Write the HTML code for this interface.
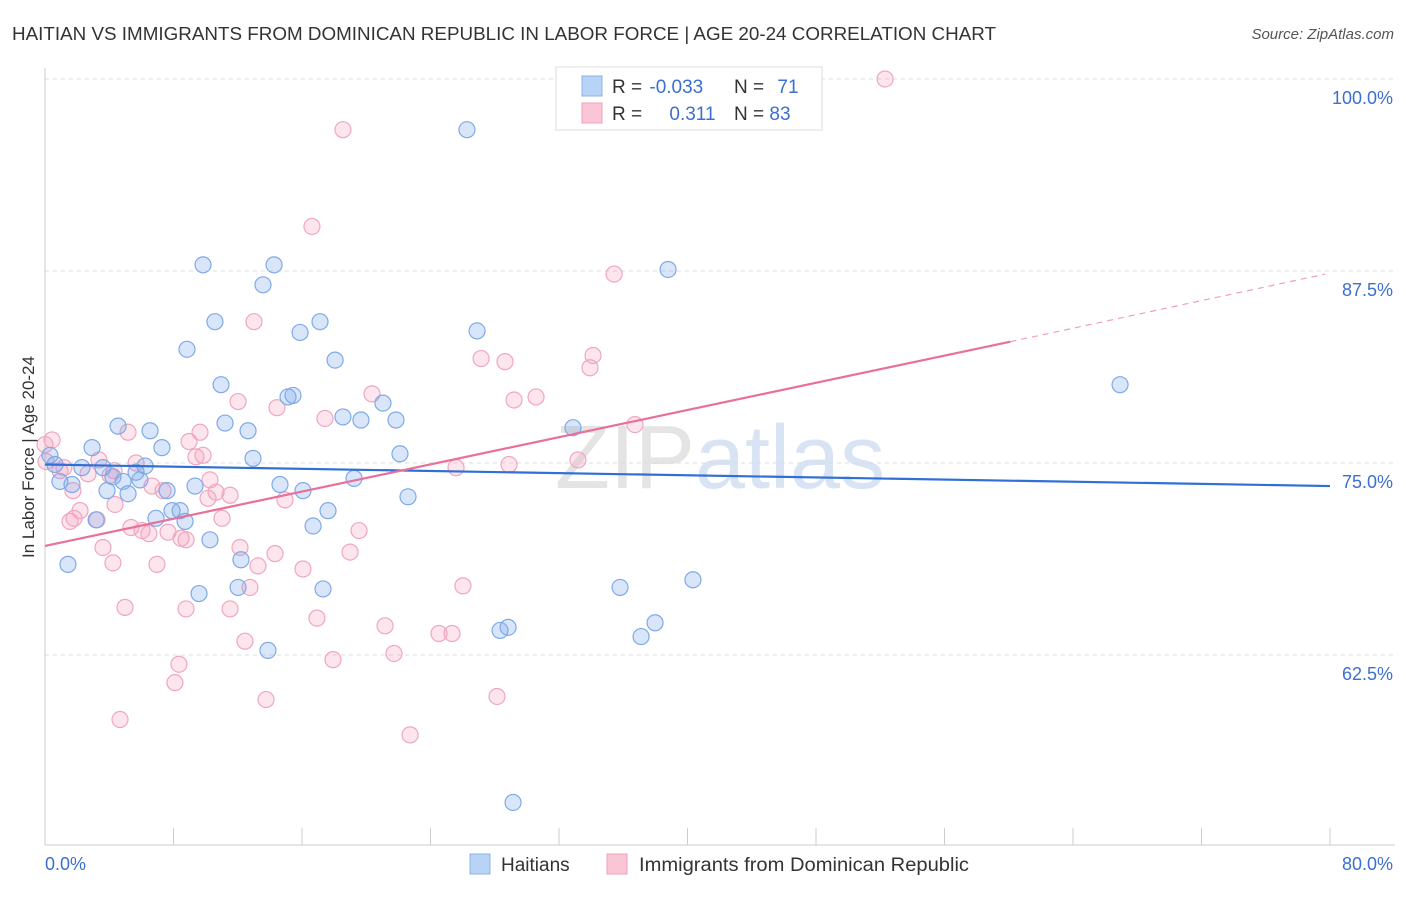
<!DOCTYPE html>
<html><head><meta charset="utf-8">
<style>
body{margin:0;background:#fff;font-family:"Liberation Sans",sans-serif;}
svg text{font-family:"Liberation Sans",sans-serif;}
</style></head>
<body>
<svg id="chart" width="1406" height="892" xmlns="http://www.w3.org/2000/svg">
<text x="12" y="40" font-size="18" fill="#333" textLength="984" lengthAdjust="spacingAndGlyphs">HAITIAN VS IMMIGRANTS FROM DOMINICAN REPUBLIC IN LABOR FORCE | AGE 20-24 CORRELATION CHART</text>
<text x="1394" y="39" font-size="15" fill="#555" font-style="italic" text-anchor="end">Source: ZipAtlas.com</text>
<text x="720" y="488" font-size="90" text-anchor="middle" fill="#e4e4e4" font-family="Liberation Serif">ZIP<tspan fill="#d8e4f4" font-family="Liberation Sans">atlas</tspan></text>
<g id="grid"></g>
<g id="axes"></g>
<g id="pinkPts"></g>
<g id="bluePts"></g>
<g id="lines"></g>
<text transform="translate(34,457) rotate(-90)" font-size="17" fill="#333" text-anchor="middle">In Labor Force | Age 20-24</text>
<text x="45" y="870" font-size="18" fill="#3b6fd0">0.0%</text>
<text x="1393" y="870" font-size="18" fill="#3b6fd0" text-anchor="end">80.0%</text>
<g>
<rect x="556" y="67" width="266" height="63" fill="#fff" stroke="#ddd"/>
<rect x="582" y="76" width="20" height="20" fill="#b9d3f6" stroke="#8ab2ea"/>
<rect x="582" y="103" width="20" height="20" fill="#fac6d6" stroke="#f0a0bc"/>
<text x="612" y="93" font-size="19" fill="#333">R = <tspan dx="2" fill="#3b6fd0">-0.033</tspan></text>
<text x="734" y="93" font-size="19" fill="#333">N = <tspan dx="8" fill="#3b6fd0">71</tspan></text>
<text x="612" y="120" font-size="19" fill="#333">R = <tspan dx="22" fill="#3b6fd0">0.311</tspan></text>
<text x="734" y="120" font-size="19" fill="#333">N = <tspan fill="#3b6fd0">83</tspan></text>
</g>
<g>
<rect x="470" y="854" width="20" height="20" fill="#b9d3f6" stroke="#8ab2ea"/>
<text x="501" y="871" font-size="19" fill="#333">Haitians</text>
<rect x="607" y="854" width="20" height="20" fill="#fac6d6" stroke="#f0a0bc"/>
<text x="639" y="871" font-size="19" fill="#333" textLength="330" lengthAdjust="spacingAndGlyphs">Immigrants from Dominican Republic</text>
</g>
</svg>
<script>
const yTicks=[100,87.5,75,62.5];
const yTickLabels=["100.0%","87.5%","75.0%","62.5%"];
const xTicks=[0,8,16,24,32,40,48,56,64,72,80];
const blueX=[26.27,9.84,14.26,38.79,13.57,10.58,17.12,15.88,26.90,8.84,18.06,66.93,10.96,15.44,15.13,21.04,18.55,19.67,21.85,11.21,4.55,6.54,12.64,32.87,2.93,7.28,22.10,12.95,0.62,2.30,3.61,6.23,5.67,4.23,4.86,5.91,0.93,1.68,9.34,14.63,19.24,7.60,3.86,5.17,16.06,22.60,7.91,8.41,6.91,17.62,8.72,3.18,16.69,10.27,1.43,12.20,40.34,12.02,17.31,35.80,9.59,37.98,28.83,28.33,37.11,13.88,29.14,0.31];
const blueY=[96.7,87.9,87.9,87.6,86.6,84.2,84.2,83.5,83.6,82.4,81.7,80.1,80.1,79.4,79.3,78.9,78.0,77.8,77.8,77.6,77.4,77.1,77.1,77.3,76.0,76.0,75.6,75.3,74.9,74.7,74.7,74.8,74.4,74.1,73.8,73.9,73.8,73.6,73.5,73.6,74.0,73.2,73.2,73.0,73.2,72.8,71.9,71.9,71.4,71.9,71.2,71.3,70.9,70.0,68.4,68.7,67.4,66.9,66.8,66.9,66.5,64.6,64.3,64.1,63.7,62.8,52.9,75.5];
const pinkX=[52.30,18.55,16.62,35.43,13.01,34.12,27.15,28.64,33.93,20.36,30.57,29.20,12.02,14.44,17.43,36.73,5.17,9.65,8.97,0.44,0,9.84,9.40,3.36,33.18,25.59,28.89,5.67,2.68,4.05,10.27,6.66,7.35,1.74,10.65,11.52,14.94,4.36,2.18,11.02,1.56,3.24,5.35,6.04,7.66,8.47,6.47,19.55,3.61,12.14,14.32,18.99,4.23,6.97,13.26,16.06,8.78,12.76,26.02,4.98,8.78,11.52,16.93,21.17,24.53,25.34,12.45,21.73,17.93,8.34,8.09,13.76,28.14,4.67,22.73,0.93,0.06,1.81,10.15,4.30,1.18];
const pinkY=[100.0,96.7,90.4,87.3,84.2,82.0,81.8,81.6,81.2,79.5,79.3,79.1,79.0,78.6,77.9,77.5,77.0,77.0,76.4,76.5,76.2,75.5,75.4,75.2,75.2,74.7,74.9,75.0,74.3,74.2,73.9,73.5,73.2,73.2,73.1,72.9,72.6,72.3,71.9,71.4,71.2,71.3,70.8,70.6,70.5,70.1,70.4,70.6,69.5,69.5,69.1,69.2,68.5,68.4,68.3,68.1,70.0,66.9,67.0,65.6,65.5,65.5,64.9,64.4,63.9,63.9,63.4,62.6,62.2,61.9,60.7,59.6,59.8,58.3,57.3,74.5,75.1,71.4,72.7,74.5,74.7];
const blueTrend=[[0,74.9],[80,73.5]];
const pinkTrend=[[0,69.6],[60.1,82.9]];
const pinkTrendDash=[[60.1,82.9],[79.7,87.3]];

const NS="http://www.w3.org/2000/svg";
const xs=v=>45+v/80*1285;
const ys=v=>79+(100-v)/12.5*192;
function mk(tag,attrs,parent){const e=document.createElementNS(NS,tag);for(const k in attrs)e.setAttribute(k,attrs[k]);parent.appendChild(e);return e;}
const grid=document.getElementById('grid'),axes=document.getElementById('axes');
yTicks.forEach((t,i)=>{
  const l=mk('line',{x1:45,x2:1395,y1:ys(t),y2:ys(t),stroke:'#ddd','stroke-dasharray':'4,4'},grid);
  
  
  const tx=mk('text',{x:1393,y:ys(t)+25,'font-size':18,fill:'#3b6fd0','text-anchor':'end'},axes);
  tx.textContent=yTickLabels[i];
  
  
});
const ax=mk('line',{x1:45,x2:45,y1:68,y2:845,stroke:'#ccc'},axes);


const bx=mk('line',{x1:45,x2:1395,y1:845,y2:845,stroke:'#ccc'},axes);


xTicks.forEach(t=>{
  const l=mk('line',{x1:xs(t),x2:xs(t),y1:828,y2:845,stroke:'#ccc'},axes);
  
  
});
function pts(X,Y,g,fill,stroke,name){
  X.forEach((x,i)=>{
    const c=mk('circle',{cx:xs(x),cy:ys(Y[i]),r:8,fill:fill,stroke:stroke,'stroke-width':1.2},g);
    
    
  });
}
pts(pinkX,pinkY,document.getElementById('pinkPts'),'rgba(245,160,190,0.28)','#f0a6c0','dominican-point');
pts(blueX,blueY,document.getElementById('bluePts'),'rgba(120,165,235,0.28)','#7eaae8','haitian-point');
const lg=document.getElementById('lines');
function ln(p,st,w,dash,name){
  const l=mk('line',{x1:xs(p[0][0]),y1:ys(p[0][1]),x2:xs(p[1][0]),y2:ys(p[1][1]),stroke:st,'stroke-width':w},lg);
  if(dash)l.setAttribute('stroke-dasharray',dash);
  
  
}
ln(blueTrend,'#2f6fd6',2.2,null,'haitian-trend-line');
ln(pinkTrend,'#e8709a',2.2,null,'dominican-trend-line');
ln(pinkTrendDash,'#eea0bb',1.2,'6,5','dominican-trend-extension');
</script>
</body></html>
